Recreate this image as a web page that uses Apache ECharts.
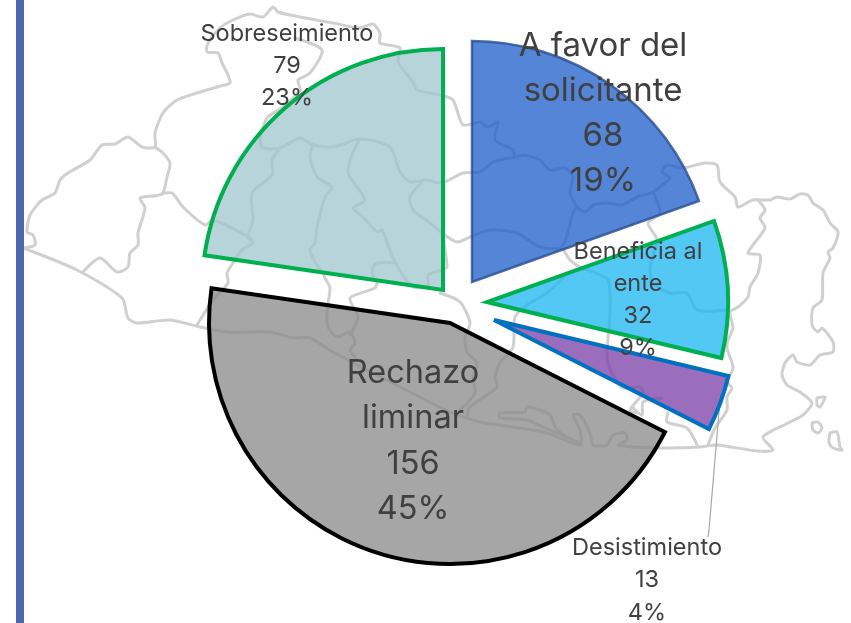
<!DOCTYPE html>
<html><head><meta charset="utf-8">
<style>html,body{margin:0;padding:0;background:#fff}#c{width:851px;height:623px}</style>
<script src="https://cdn.jsdelivr.net/npm/echarts@6/dist/echarts.min.js"></script></head>
<body><div id="c"></div>
<script>
const categories = ['A favor del\nsolicitante','Beneficia al\nente','Desistimiento','Rechazo\nliminar','Sobreseimiento'];
const values = [68,32,13,156,79];
const fills = ['rgba(28,92,200,.75)','rgba(26,182,242,.75)','rgba(122,60,167,.75)','rgba(136,136,136,.75)','rgba(159,198,206,.75)'];
const borders = ['rgba(40,78,145,.8)','#00b050','#0070c0','#000000','#00b050'];
const borderWidths = [2.5,4,4,4,4];
const centers = [[472,282],[487,302],[494,320],[450,323],[443,290]];
const labelSpots = [[603,114],[638,300],[647,580],[413,441],[287,66]];
const labelFonts = [[33,45],[23.5,32],[23.5,32.5],[32.5,45.5],[23.5,32]];
const radius = 241;

// background: grey outline map of El Salvador (decoration only)
const mapLines = [
 [[23,248],[35,245],[33,235],[27,232],[30,215],[42,200],[55,193],[60,180],[68,173],[90,160],[102,145],[115,144],[128,137],[142,147],[155,147],[155,133],[163,113],[177,100],[197,93],[217,87],[230,83],[228,75],[222,63],[218,53],[207,52],[208,43],[220,28],[233,20],[250,14],[263,17],[273,7],[278,12],[300,17],[333,23],[360,28],[373,24],[380,33],[380,43],[400,48],[398,62],[413,82],[417,90],[440,95],[453,100],[463,125],[480,122],[488,127],[498,122],[495,140],[513,150],[515,157],[523,155],[540,160],[550,170],[565,168],[573,177],[570,193],[577,207],[585,212],[593,205],[607,203],[622,205],[637,197],[653,192],[665,183],[670,178],[662,172],[667,165],[683,168],[705,163],[717,165],[720,182],[735,197],[738,207],[753,200],[770,200],[777,197],[790,199],[800,194],[808,195],[813,203],[823,210],[830,223],[838,232],[833,248],[828,252],[830,258],[823,273],[822,300],[813,308],[812,325],[818,332],[822,328],[833,342],[833,352],[820,355],[810,365],[797,362],[793,355],[785,363],[782,375],[787,385],[800,392],[812,403],[803,415],[788,423],[763,437],[773,450],[757,451],[717,445],[700,447],[657,448],[618,445],[627,440],[625,433],[613,435],[607,445],[593,445],[590,433],[580,415],[573,415],[580,430],[580,445],[547,433],[513,427],[480,422],[450,412],[400,387],[333,352],[310,338],[293,338],[270,332],[227,332],[200,327],[170,320],[137,323],[128,318],[122,298],[77,270],[23,248]],
 [[580,443],[557,430],[550,415],[540,410],[527,407],[525,412],[500,413],[500,418],[527,420],[545,428],[580,443]],
 [[155,147],[163,153],[170,163],[167,177],[162,194],[140,198],[145,208],[138,233],[138,245],[130,253],[128,267],[117,272],[100,258],[83,272]],
 [[162,194],[172,193],[183,207],[205,225],[213,220],[250,238],[253,243],[242,250],[233,263],[227,273],[228,283],[213,300],[200,320],[197,325]],
 [[295,38],[322,50],[310,73],[298,80],[300,90],[283,107],[267,118],[260,140],[263,148],[280,148],[300,138],[313,145],[333,147],[360,139],[390,147],[400,172],[410,182],[427,180],[442,183],[463,173],[480,172],[493,162],[515,157]],
 [[280,148],[272,160],[272,175],[252,193],[253,220],[248,237],[253,242]],
 [[313,145],[310,157],[317,177],[332,187],[325,197],[317,227],[315,243],[310,250],[315,262],[323,273],[325,278],[330,288],[327,310],[328,327],[337,337],[350,332],[355,343],[350,350],[355,357]],
 [[350,335],[358,317],[350,298],[375,288],[377,282],[373,277],[373,267],[377,263],[395,263]],
 [[360,139],[352,155],[348,173],[365,200],[353,208],[363,217],[377,232],[382,230],[395,262],[413,287],[428,285],[428,275],[442,270],[447,267],[442,233]],
 [[422,182],[410,197],[413,210],[430,223],[442,233],[457,242],[470,237],[490,230],[517,233],[540,247],[562,247],[573,213],[577,207]],
 [[440,293],[460,302],[470,323],[465,337],[467,352],[477,363],[473,377],[475,393],[460,410]],
 [[562,247],[570,260],[580,267],[593,272],[608,280],[610,313],[607,357],[612,373],[623,388],[640,387],[643,393],[630,410],[637,413]],
 [[563,278],[547,293],[527,305],[515,317],[513,347],[500,363],[495,377],[497,387],[470,407],[467,417]],
 [[653,192],[660,213],[648,223],[657,240],[650,267],[653,283],[670,293],[687,293],[697,310],[725,310]],
 [[758,200],[765,210],[760,218],[765,228],[748,253],[760,255],[758,273],[750,287],[748,297],[738,307],[730,312],[733,328],[728,340],[727,348],[733,368],[727,382],[732,388],[727,397],[727,410],[715,428],[708,445]],
 [[662,398],[643,402],[642,415],[632,407]],
 [[668,413],[667,422],[687,428],[698,447]],
 [[817,398],[825,397],[820,407],[817,405],[817,398]],
 [[812,423],[818,422],[822,428],[818,433],[813,430],[812,423]],
 [[830,433],[837,432],[840,447],[842,450],[833,448],[829,443],[830,433]]
];
const leaderLine = [[720,400],[709,530],[708,537]];

const chart = echarts.init(document.getElementById('c'));
const graphics = mapLines.map(pts => ({
  type:'polyline', silent:true,
  shape:{points:pts, smooth:0.25},
  style:{fill:null, stroke:'#d0d0d0', lineWidth:3, lineJoin:'round', lineCap:'round'}
}));
graphics.push({type:'rect',silent:true,shape:{x:16,y:0,width:8,height:623},style:{fill:'#4a66ad'}});
graphics.push({type:'polyline',silent:true,shape:{points:leaderLine},style:{fill:null,stroke:'#a6a6a6',lineWidth:1.2}});

const series = categories.map((_, i) => ({
  type:'pie', silent:true, animation:false, clockwise:true, startAngle:90,
  percentPrecision:0, minAngle:0, avoidLabelOverlap:false,
  center:centers[i], radius:[0,radius],
  labelLayout:(p)=> p.dataIndex===i ? {x:labelSpots[i][0],y:labelSpots[i][1],align:'center',verticalAlign:'middle',hideOverlap:false}:{},
  data:categories.map((name,j)=>({
    name, value:values[j],
    itemStyle: j===i ? {color:fills[i],borderColor:borders[i],borderWidth:borderWidths[i],borderJoin:'miter',borderMiterLimit:5}
                     : {color:'transparent',borderWidth:0},
    label: j===i ? {show:true,position:'inside',formatter:'{b}\n{c}\n{d}%',color:'#404040',
                    fontFamily:'Inter, sans-serif',fontSize:labelFonts[i][0],lineHeight:labelFonts[i][1],align:'center'}
                 : {show:false},
    labelLine:{show:false}
  }))
}));
chart.setOption({animation:false,backgroundColor:'#fff',graphic:{elements:graphics},series});
</script></body></html>
